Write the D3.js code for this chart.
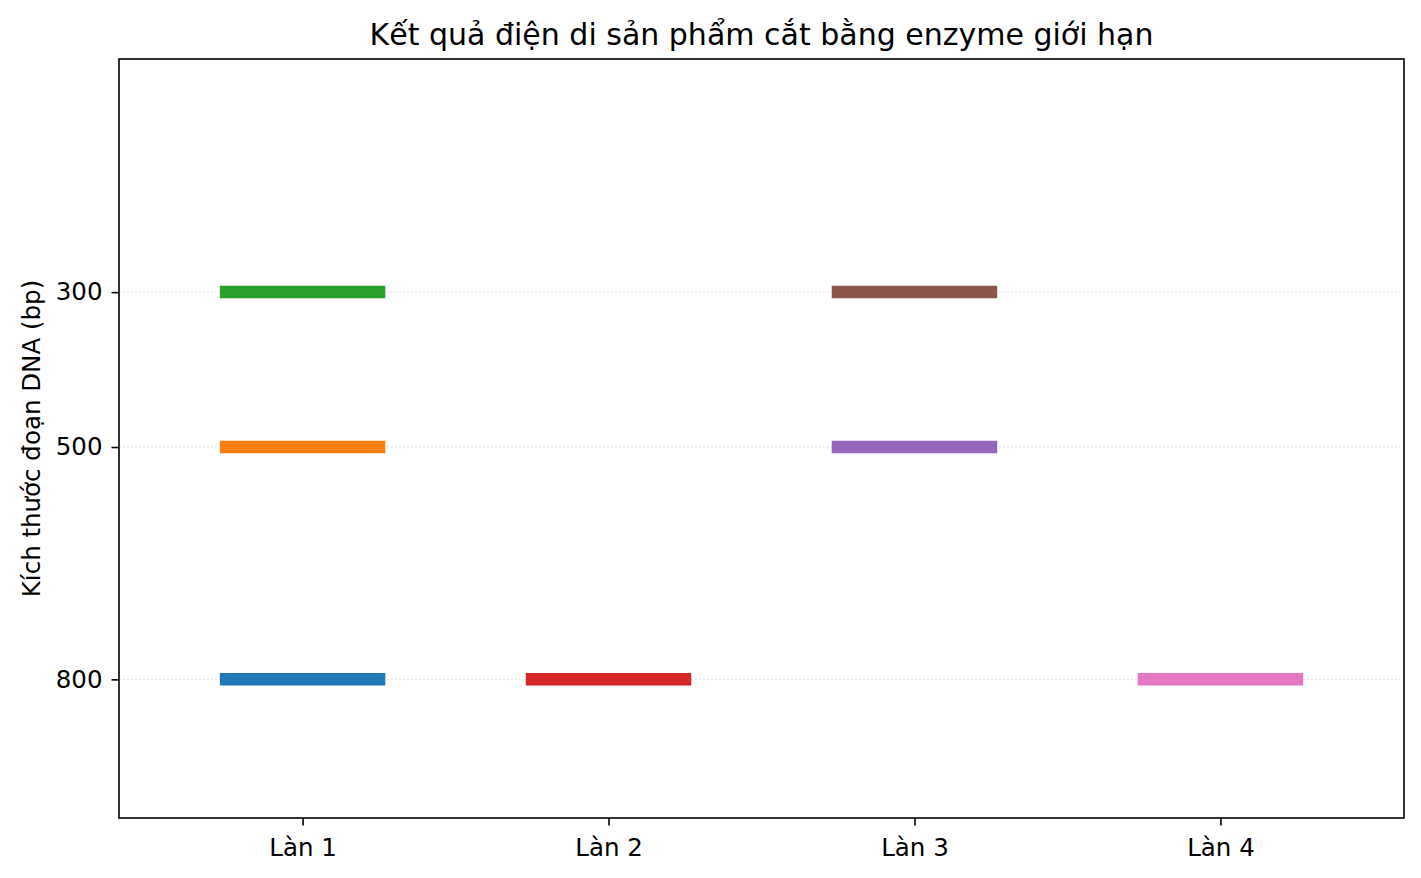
<!DOCTYPE html>
<html>
<head>
<meta charset="utf-8">
<script src="https://cdn.jsdelivr.net/npm/d3@7"></script>
<style>
  body { margin: 0; background: #fff; }
  text { font-family: "DejaVu Sans", sans-serif; fill: #000; }
</style>
</head>
<body>
<svg></svg>
<script>
var width = 1421;
var height = 878;

var svg = d3.select('svg')
  .attr("width", width)
  .attr("height", height);

// lanes and bands
var lanes = ["Làn 1", "Làn 2", "Làn 3", "Làn 4"];
var bandLane = [1, 1, 1, 2, 3, 3, 4];
var bandSize = [800, 500, 300, 800, 500, 300, 800];
var bandColor = ["#1f77b4", "#ff7f0e", "#2ca02c", "#d62728", "#9467bd", "#8c564b", "#e377c2"];
var yTicks = [300, 500, 800];

var margin = { top: 59, right: 17, bottom: 60, left: 119 };
var x0 = margin.left, x1 = width - margin.right;
var y0 = margin.top, y1 = height - margin.bottom;

var scaleX = d3.scaleLinear().domain([0.4, 4.6]).range([x0, x1]);
var scaleY = d3.scaleLinear().domain([-1, 979]).range([y0, y1]);

// grid
svg.append("g").selectAll("line")
  .data(yTicks)
  .enter()
  .append("line")
  .attr("x1", x0).attr("x2", x1)
  .attr("y1", function(d){ return scaleY(d) })
  .attr("y2", function(d){ return scaleY(d) })
  .attr("stroke", "#b0b0b0")
  .attr("stroke-opacity", 0.5)
  .attr("stroke-width", 1)
  .attr("stroke-dasharray", "1.5,2.5");

// bands
var bands = bandLane.map(function(l, i) {
  return { lane: l, size: bandSize[i], color: bandColor[i] };
});

svg.append("g").selectAll("line")
  .data(bands)
  .enter()
  .append("line")
  .attr("x1", function(d){ return scaleX(d.lane - 0.25) })
  .attr("x2", function(d){ return scaleX(d.lane + 0.25) })
  .attr("y1", function(d){ return scaleY(d.size) })
  .attr("y2", function(d){ return scaleY(d.size) })
  .attr("stroke", function(d){ return d.color })
  .attr("stroke-width", 12.5)
  .attr("stroke-linecap", "square");

// axes
var xAxis = d3.axisBottom(scaleX)
  .tickValues([1, 2, 3, 4])
  .tickFormat(function(d){ return lanes[d - 1] })
  .tickSize(7.5)
  .tickPadding(13);

var yAxis = d3.axisLeft(scaleY)
  .tickValues(yTicks)
  .tickSize(7.5)
  .tickPadding(9);

var gx = svg.append("g")
  .attr("transform", "translate(0," + y1 + ")")
  .call(xAxis);
var gy = svg.append("g")
  .attr("transform", "translate(" + x0 + ",0)")
  .call(yAxis);

[gx, gy].forEach(function(g) {
  g.select(".domain").remove();
  g.selectAll(".tick line").attr("stroke", "#000").attr("stroke-width", 1.6);
  g.selectAll(".tick text")
    .style("font-family", "DejaVu Sans")
    .style("font-size", "24.5px")
    .attr("fill", "#000");
});

// frame
svg.append("rect")
  .attr("x", x0).attr("y", y0)
  .attr("width", x1 - x0).attr("height", y1 - y0)
  .attr("fill", "none")
  .attr("stroke", "#000")
  .attr("stroke-width", 1.6);

svg.append("text")
  .attr("x", (x0 + x1) / 2)
  .attr("y", 45)
  .attr("text-anchor", "middle")
  .style("font-size", "30px")
  .text("Kết quả điện di sản phẩm cắt bằng enzyme giới hạn");

svg.append("text")
  .attr("transform", "translate(40," + ((y0 + y1) / 2) + ") rotate(-90)")
  .attr("text-anchor", "middle")
  .style("font-size", "24.5px")
  .text("Kích thước đoạn DNA (bp)");
</script>
</body>
</html>
